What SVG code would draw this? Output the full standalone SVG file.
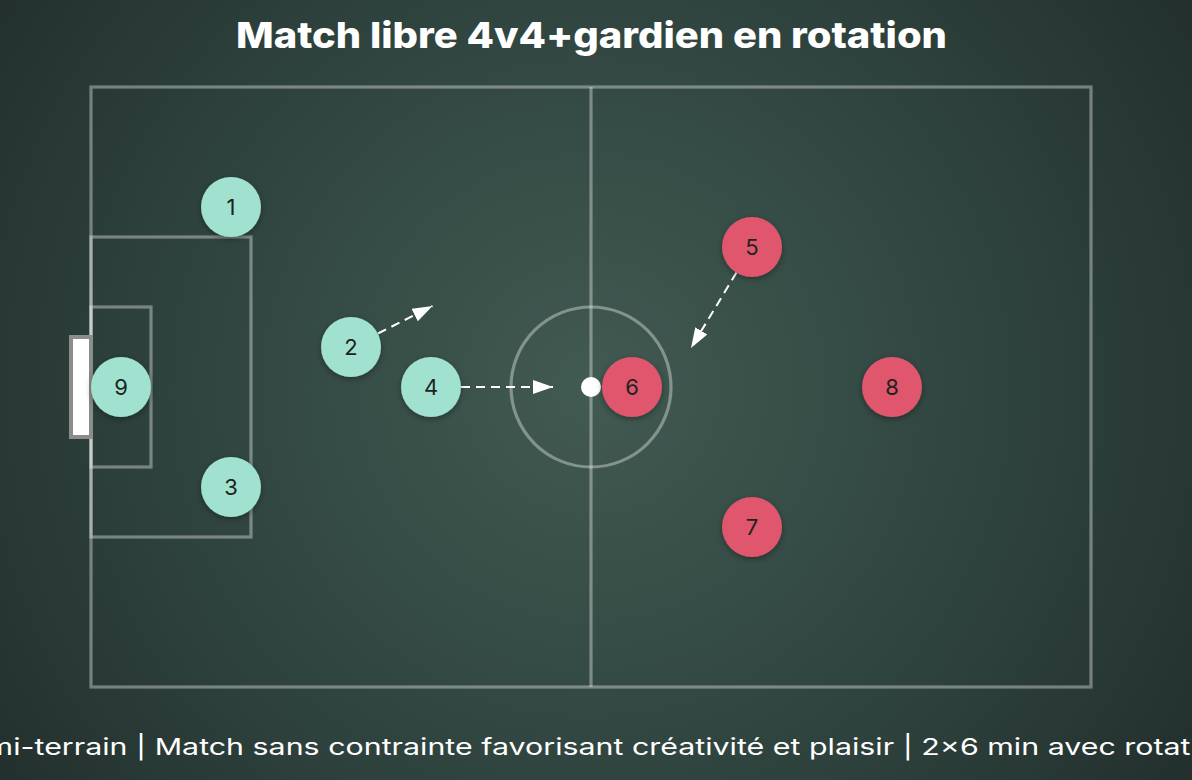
<svg xmlns="http://www.w3.org/2000/svg" width="1192" height="780" viewBox="0 0 1192 780">
  <defs>
    <radialGradient id="bg" gradientUnits="userSpaceOnUse" cx="591" cy="387" r="760">
      <stop offset="0" stop-color="#415a52"/>
      <stop offset="0.55" stop-color="#2f433e"/>
      <stop offset="1" stop-color="#212d2b"/>
    </radialGradient>
    <filter id="shadow" x="-40%" y="-40%" width="180%" height="180%">
      <feDropShadow dx="0" dy="2" stdDeviation="3" flood-color="#000" flood-opacity="0.35"/>
    </filter>
    <marker id="arrow" markerUnits="userSpaceOnUse" markerWidth="20" markerHeight="14" refX="20" refY="7" orient="auto">
      <path d="M0,0 L20,7 L0,14 Z" fill="#ffffff"/>
    </marker>
    <style>
      .line { fill: none; stroke: rgba(255,255,255,0.36); stroke-width: 3.2; }
      .conn { fill: none; stroke: #ffffff; stroke-width: 2; stroke-dasharray: 9 6; marker-end: url(#arrow); }
      .home { fill: #a0e1cf; filter: url(#shadow); }
      .away { fill: #e0566c; filter: url(#shadow); }
      .num { font-family: Inter, "Liberation Sans", sans-serif; font-size: 22px; fill: #1c2422; text-anchor: middle; }
      .title { font-family: Inter, "Liberation Sans", sans-serif; font-weight: 800; font-size: 36px; fill: #ffffff; }
      .sub { font-family: Inter, "Liberation Sans", sans-serif; font-size: 23px; fill: #ffffff; }
    </style>
  </defs>

  <rect x="0" y="0" width="1192" height="780" fill="url(#bg)"/>

  <text class="title" x="236" y="48" textLength="711" lengthAdjust="spacingAndGlyphs">Match libre 4v4+gardien en rotation</text>

  <g id="field">
    <rect class="line" x="91" y="87" width="1000" height="600"/>
    <line class="line" x1="591" y1="87" x2="591" y2="687"/>
    <circle class="line" cx="591" cy="387" r="80"/>
    <rect class="line" x="91" y="237" width="160" height="300"/>
    <rect class="line" x="91" y="307" width="60" height="160"/>
    <rect id="goal" x="71" y="337" width="20" height="100" fill="#ffffff" stroke="#8a8d8c" stroke-width="4"/>
  </g>

  <g id="ball">
    <circle cx="591" cy="387" r="10" fill="#ffffff"/>
  </g>

  <g id="connectors">
    <line class="conn" x1="378" y1="333.5" x2="432.5" y2="306"/>
    <line class="conn" x1="461" y1="387" x2="553" y2="387"/>
    <line class="conn" x1="736.5" y1="272.5" x2="691" y2="348"/>
  </g>

  <g id="p1"><circle class="home" cx="231" cy="207" r="30"/><text class="num" x="231" y="215">1</text></g>
  <g id="p2"><circle class="home" cx="351" cy="347" r="30"/><text class="num" x="351" y="355">2</text></g>
  <g id="p3"><circle class="home" cx="231" cy="487" r="30"/><text class="num" x="231" y="495">3</text></g>
  <g id="p4"><circle class="home" cx="431" cy="387" r="30"/><text class="num" x="431" y="395">4</text></g>
  <g id="p9"><circle class="home" cx="121" cy="387" r="30"/><text class="num" x="121" y="395">9</text></g>
  <g id="p5"><circle class="away" cx="752" cy="247" r="30"/><text class="num" x="752" y="255">5</text></g>
  <g id="p6"><circle class="away" cx="632" cy="387" r="30"/><text class="num" x="632" y="395">6</text></g>
  <g id="p7"><circle class="away" cx="752" cy="527" r="30"/><text class="num" x="752" y="535">7</text></g>
  <g id="p8"><circle class="away" cx="892" cy="387" r="30"/><text class="num" x="892" y="395">8</text></g>

  <text class="sub" x="-53" y="755" textLength="1287" lengthAdjust="spacingAndGlyphs">Demi-terrain | Match sans contrainte favorisant créativité et plaisir | 2×6 min avec rotation</text>
</svg>
